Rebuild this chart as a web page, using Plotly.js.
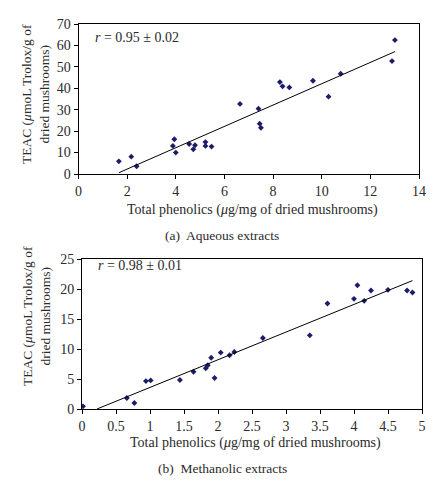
<!DOCTYPE html>
<html>
<head>
<meta charset="utf-8">
<script src="https://cdn.plot.ly/plotly-3.0.1.min.js"></script>
<style>html,body{margin:0;padding:0;background:#fff;}#chart{width:440px;height:482px;}</style>
</head>
<body>
<div id="chart"></div>
<script>
// (a) Aqueous extracts
const aqPhenolics = [1.66, 2.17, 2.39, 3.88, 3.94, 4.00, 4.55, 4.72, 4.79, 5.22, 5.22, 5.47, 6.64, 7.40, 7.45, 7.50, 8.28, 8.39, 8.67, 9.64, 10.28, 10.78, 12.89, 13.01];
const aqTeac      = [5.9, 8.1, 3.6, 13.1, 16.2, 10.0, 14.0, 11.5, 13.4, 14.9, 13.1, 12.8, 32.7, 30.5, 23.5, 21.6, 42.9, 40.9, 40.4, 43.5, 36.1, 46.8, 52.7, 62.5];
const aqTrendX = [1.66, 13.01];
const aqTrendY = [0.6, 57.1];
// (b) Methanolic extracts
const mePhenolics = [0.015, 0.66, 0.77, 0.94, 1.01, 1.44, 1.64, 1.82, 1.85, 1.90, 1.95, 2.04, 2.17, 2.24, 2.66, 3.35, 3.61, 4.00, 4.05, 4.15, 4.25, 4.50, 4.78, 4.86];
const meTeac      = [0.44, 1.83, 1.0, 4.65, 4.76, 4.83, 6.2, 6.8, 7.3, 8.55, 5.17, 9.4, 8.95, 9.5, 11.84, 12.28, 17.59, 18.36, 20.63, 18.03, 19.75, 19.86, 19.75, 19.41];
const meTrendX = [0.22, 4.86];
const meTrendY = [0, 21.4];

const xTitle = 'Total phenolics (<i>μ</i>g/mg of dried mushrooms)';
const yTitle = 'TEAC (<i>μ</i>moL Trolox/g of<br>dried mushrooms)';
const captions = ['(a)  Aqueous extracts', '(b)  Methanolic extracts'];
const rLabels = ['<i>r</i> = 0.95 ± 0.02', '<i>r</i> = 0.98 ± 0.01'];

const W = 440, H = 482;
const px = x => x / W, py = y => 1 - y / H;
const FONT = 'Liberation Serif, Times New Roman, serif';
const TXT = '#2a2a2a';
const markerStyle = {symbol: 'diamond', size: 4.5, color: '#1c1c6b'};

const data = [
  {x: aqPhenolics, y: aqTeac, type: 'scatter', mode: 'markers', marker: markerStyle, xaxis: 'x', yaxis: 'y'},
  {x: aqTrendX, y: aqTrendY, type: 'scatter', mode: 'lines', line: {color: '#000', width: 1}, xaxis: 'x', yaxis: 'y'},
  {x: mePhenolics, y: meTeac, type: 'scatter', mode: 'markers', marker: markerStyle, xaxis: 'x2', yaxis: 'y2'},
  {x: meTrendX, y: meTrendY, type: 'scatter', mode: 'lines', line: {color: '#000', width: 1}, xaxis: 'x2', yaxis: 'y2'}
];

const axBase = {
  showgrid: false, zeroline: false, showline: true, linecolor: '#000', linewidth: 1,
  mirror: true, ticks: 'outside', ticklen: 4, tickcolor: '#000',
  tickfont: {family: FONT, size: 14, color: TXT}
};

function ann(text, x, y, size, extra) {
  return Object.assign({text: text, xref: 'paper', yref: 'paper', x: px(x), y: py(y),
    xanchor: 'center', yanchor: 'middle', showarrow: false,
    font: {family: FONT, size: size, color: TXT}}, extra || {});
}

const layout = {
  width: W, height: H,
  margin: {l: 0, r: 0, t: 0, b: 0},
  paper_bgcolor: '#fff', plot_bgcolor: '#fff',
  showlegend: false,
  font: {family: FONT, size: 14, color: TXT},
  xaxis: Object.assign({}, axBase, {domain: [px(78.5), px(419)], range: [0, 14], dtick: 2, anchor: 'y'}),
  yaxis: Object.assign({}, axBase, {domain: [py(174), py(24)], range: [0, 70], dtick: 10, anchor: 'x'}),
  xaxis2: Object.assign({}, axBase, {domain: [px(82), px(422)], range: [0, 5], dtick: 0.5, anchor: 'y2'}),
  yaxis2: Object.assign({}, axBase, {domain: [py(409), py(259)], range: [0, 25], dtick: 5, anchor: 'x2'}),
  annotations: [
    ann(rLabels[0], 93, 38, 14, {xanchor: 'left'}),
    ann(rLabels[1], 96, 265, 14, {xanchor: 'left'}),
    ann(xTitle, 252, 210, 14),
    ann(xTitle, 255, 443, 14),
    ann(captions[0], 222, 235, 13.5),
    ann(captions[1], 222, 468, 13.5),
    ann(yTitle, 36, 94, 13.5, {textangle: -90}),
    ann(yTitle, 36, 316, 13.5, {textangle: -90})
  ]
};

Plotly.newPlot('chart', data, layout, {displayModeBar: false, staticPlot: true});
</script>
</body>
</html>
